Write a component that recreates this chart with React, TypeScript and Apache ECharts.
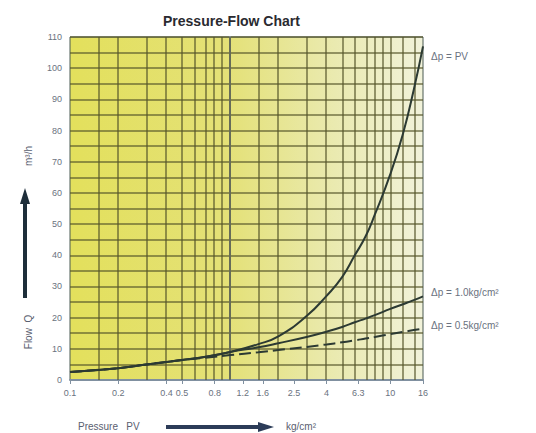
import React, { useEffect, useRef } from "react";
import * as echarts from "echarts";

// Pressure PV (kg/cm²) sample points
const pressure = [0.1, 0.2, 0.3, 0.5, 0.75, 1, 1.5, 2, 3, 4, 5, 6, 7, 8, 10, 12, 14, 16];
// Flow Q (m³/h) for Δp = PV
const flowFull = [2.6, 3.8, 5.0, 6.4, 7.7, 9.0, 11.5, 14, 20.5, 27, 33, 40, 46, 53, 66, 79, 93, 107];
// Flow Q for Δp = 1.0 kg/cm²
const flowDp10 = [2.6, 3.8, 5.0, 6.4, 7.7, 9.0, 10.5, 11.8, 13.8, 15.5, 17, 18.5, 19.7, 20.8, 22.8, 24.3, 25.6, 26.8];
// Flow Q for Δp = 0.5 kg/cm²
const flowDp05 = [2.6, 3.8, 5.0, 6.4, 7.3, 8.0, 8.9, 9.6, 10.6, 11.4, 12.1, 12.7, 13.3, 13.8, 14.7, 15.4, 16, 16.5];

const seriesNames = ["Δp = PV", "Δp = 1.0kg/cm²", "Δp = 0.5kg/cm²"];

const xTickValues = [0.1, 0.2, 0.4, 0.5, 0.8, 1.2, 1.6, 2.5, 4, 6.3, 10, 16];
const xTickLabels = ["0.1", "0.2", "0.4", "0.5", "0.8", "1.2", "1.6", "2.5", "4", "6.3", "10", "16"];
const xGridValues = [0.15, 0.2, 0.3, 0.4, 0.5, 0.6, 0.7, 0.8, 0.9, 1, 1.5, 2, 3, 4, 5, 6, 7, 8, 9, 10, 12, 14];

const yMin = 0;
const yMax = 110;
const yInterval = 10;

const lg = (v: number) => Math.log10(v);

export default function App() {
  const ref = useRef<HTMLDivElement>(null);

  useEffect(() => {
    if (!ref.current) return;
    const chart = echarts.init(ref.current, undefined, { renderer: "svg" });

    const toData = (arr: number[]) => pressure.map((p, i) => [lg(p), arr[i]]);
    const curveColor = "#2c3a33";
    const gridLineColor = "rgba(85, 85, 42, 0.6)";

    const labelFor = (v: number) => {
      let best = 0;
      let bd = Infinity;
      xTickValues.forEach((t, i) => {
        const d = Math.abs(lg(t) - v);
        if (d < bd) {
          bd = d;
          best = i;
        }
      });
      return xTickLabels[best];
    };

    const endLabelStyle = {
      show: true,
      color: "#6a7280",
      fontSize: 10,
      fontFamily: "Liberation Sans, Arial, sans-serif",
      distance: 8,
    };

    chart.setOption({
      animation: false,
      backgroundColor: "#ffffff",
      title: {
        text: "Pressure-Flow Chart",
        left: 158,
        top: 9,
        textStyle: {
          fontSize: 14,
          fontWeight: "bold",
          color: "#2a2a30",
          fontFamily: "Liberation Sans, Arial, sans-serif",
        },
      },
      grid: {
        left: 70,
        right: 113,
        top: 37,
        bottom: 53,
        show: true,
        borderColor: "#4a5a52",
        borderWidth: 1,
        backgroundColor: {
          type: "linear",
          x: 0,
          y: 0,
          x2: 1,
          y2: 0,
          colorStops: [
            { offset: 0, color: "#e3e05c" },
            { offset: 0.45, color: "#e4e178" },
            { offset: 0.75, color: "#eaeab0" },
            { offset: 1, color: "#f1f2da" },
          ],
        },
      },
      xAxis: {
        type: "value",
        min: lg(0.1),
        max: lg(16),
        axisLine: { show: true, lineStyle: { color: "#8090a0", width: 2 } },
        axisTick: {
          show: true,
          customValues: xTickValues.map(lg),
          length: 4,
          lineStyle: { color: "#8090a0" },
        },
        axisLabel: {
          customValues: xTickValues.map(lg),
          formatter: (v: number) => labelFor(v),
          fontSize: 9,
          color: "#6a7280",
          margin: 8,
          fontFamily: "Liberation Sans, Arial, sans-serif",
        },
        splitLine: { show: false },
      },
      yAxis: {
        type: "value",
        min: yMin,
        max: yMax,
        interval: yInterval,
        axisLine: { show: true, lineStyle: { color: "#8090a0", width: 2 } },
        axisTick: { show: false },
        axisLabel: {
          fontSize: 9,
          color: "#6a7280",
          margin: 8,
          fontFamily: "Liberation Sans, Arial, sans-serif",
        },
        splitLine: { show: true, lineStyle: { color: gridLineColor, width: 2 } },
        minorTick: { show: false, splitNumber: 2 },
        minorSplitLine: { show: true, lineStyle: { color: gridLineColor, width: 2 } },
      },
      series: [
        {
          name: seriesNames[0],
          type: "line",
          data: toData(flowFull),
          smooth: true,
          symbol: "none",
          lineStyle: { color: curveColor, width: 2 },
          endLabel: { ...endLabelStyle, formatter: seriesNames[0], offset: [0, 10] },
          markLine: {
            silent: true,
            symbol: "none",
            label: { show: false },
            lineStyle: { color: gridLineColor, width: 2, type: "solid" },
            data: xGridValues.map((v) => ({ xAxis: lg(v) })),
          },
          z: 5,
        },
        {
          name: seriesNames[1],
          type: "line",
          data: toData(flowDp10),
          smooth: true,
          symbol: "none",
          lineStyle: { color: curveColor, width: 2 },
          endLabel: { ...endLabelStyle, formatter: seriesNames[1], offset: [0, -4] },
          z: 5,
        },
        {
          name: seriesNames[2],
          type: "line",
          data: toData(flowDp05),
          smooth: true,
          symbol: "none",
          lineStyle: { color: curveColor, width: 2, type: [12, 5] },
          endLabel: { ...endLabelStyle, formatter: seriesNames[2], offset: [0, -3] },
          z: 5,
        },
      ],
      graphic: [
        // x-axis title
        {
          type: "text",
          left: 78,
          top: 421,
          style: {
            text: "Pressure   PV",
            fontSize: 10,
            fill: "#5a6070",
            fontFamily: "Liberation Sans, Arial, sans-serif",
          },
        },
        {
          type: "line",
          shape: { x1: 166, y1: 427, x2: 262, y2: 427 },
          style: { stroke: "#2c3c58", lineWidth: 4 },
        },
        {
          type: "polygon",
          shape: { points: [[258, 422], [274, 427], [258, 432]] },
          style: { fill: "#2c3c58" },
        },
        {
          type: "text",
          left: 286,
          top: 421,
          style: {
            text: "kg/cm²",
            fontSize: 10,
            fill: "#5a6070",
            fontFamily: "Liberation Sans, Arial, sans-serif",
          },
        },
        // y-axis title
        {
          type: "text",
          x: 28,
          y: 332,
          rotation: Math.PI / 2,
          style: {
            text: "Flow  Q",
            fontSize: 10,
            fill: "#5a6070",
            align: "center",
            verticalAlign: "middle",
            fontFamily: "Liberation Sans, Arial, sans-serif",
          },
        },
        {
          type: "line",
          shape: { x1: 25, y1: 298, x2: 25, y2: 200 },
          style: { stroke: "#1e2e3a", lineWidth: 4 },
        },
        {
          type: "polygon",
          shape: { points: [[20, 204], [25, 188], [30, 204]] },
          style: { fill: "#1e2e3a" },
        },
        {
          type: "text",
          x: 28,
          y: 156,
          rotation: Math.PI / 2,
          style: {
            text: "m³/h",
            fontSize: 10,
            fill: "#5a6070",
            align: "center",
            verticalAlign: "middle",
            fontFamily: "Liberation Sans, Arial, sans-serif",
          },
        },
      ],
    });

    return () => chart.dispose();
  }, []);

  return <div ref={ref} style={{ width: 536, height: 433, position: "absolute", left: 0, top: 0 }} />;
}
